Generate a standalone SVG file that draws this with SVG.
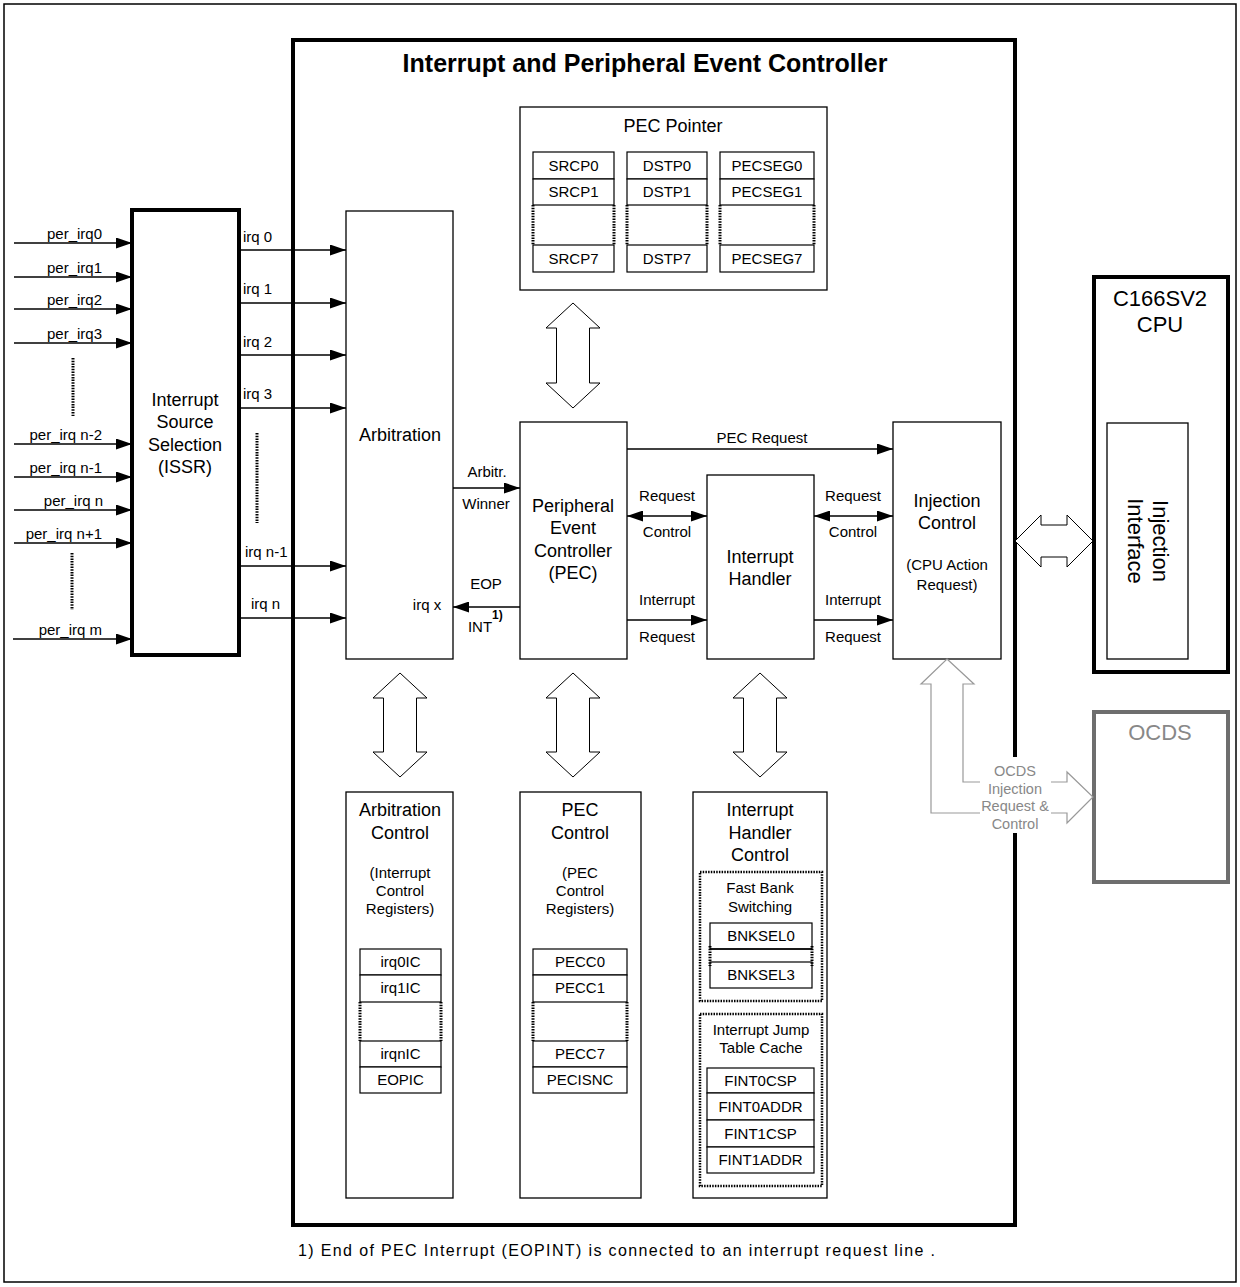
<svg xmlns="http://www.w3.org/2000/svg" width="1240" height="1287" viewBox="0 0 1240 1287">
<defs>
<marker id="ah" markerUnits="userSpaceOnUse" markerWidth="16" markerHeight="11" refX="16" refY="5.5" orient="auto-start-reverse"><path d="M0,0 L16,5.5 L0,11 z" fill="#000"/></marker>
<style>
text{font-family:"Liberation Sans",Arial,sans-serif;fill:#000}
.m{text-anchor:middle}
.e{text-anchor:end}
.f18{font-size:18px}
.f15{font-size:15px}
.f22{font-size:22px}
.box{fill:#fff;stroke:#000;stroke-width:1.3}
.thick{fill:#fff;stroke:#000;stroke-width:4}
.reg{fill:#fff;stroke:#000;stroke-width:1.2}
.dots{fill:none;stroke:#000;stroke-width:3;stroke-dasharray:1.5 1.2}
.dbox{fill:none;stroke:#000;stroke-width:2.5;stroke-dasharray:1.5 1.2}
.ln{stroke:#000;stroke-width:1.3;fill:none}
.arr{stroke:#000;stroke-width:1.3;fill:none;marker-end:url(#ah)}
.darr{stroke:#000;stroke-width:1.3;fill:none;marker-end:url(#ah);marker-start:url(#ah)}
.hol{fill:#fff;stroke:#000;stroke-width:1}
.gry{fill:#fff;stroke:#999;stroke-width:1.2}
.gt{fill:#888}
</style>
</defs>
<rect x="4" y="4" width="1232" height="1278" fill="#fff" stroke="#000" stroke-width="1.5"/>

<g id="iepc">
<rect class="thick" x="293" y="40" width="722" height="1185"/>
<text x="645" y="72" class="m" style="font-size:25px;font-weight:bold">Interrupt and Peripheral Event Controller</text>
</g>

<g id="issr">
<rect class="thick" x="132" y="210" width="107" height="445"/>
<text x="185" y="406" class="m f18">Interrupt</text>
<text x="185" y="428" class="m f18">Source</text>
<text x="185" y="451" class="m f18">Selection</text>
<text x="185" y="473" class="m f18">(ISSR)</text>
</g>

<g id="inputs" class="f15">
<text x="102" y="239" class="e">per_irq0</text>
<text x="102" y="273" class="e">per_irq1</text>
<text x="102" y="305" class="e">per_irq2</text>
<text x="102" y="339" class="e">per_irq3</text>
<text x="102" y="440" class="e">per_irq n-2</text>
<text x="102" y="473" class="e">per_irq n-1</text>
<text x="103" y="506" class="e">per_irq n</text>
<text x="102" y="539" class="e">per_irq n+1</text>
<text x="102" y="635" class="e">per_irq m</text>
<text x="243" y="242">irq 0</text>
<text x="243" y="294">irq 1</text>
<text x="243" y="347">irq 2</text>
<text x="243" y="399">irq 3</text>
<text x="245" y="557">irq n-1</text>
<text x="251" y="609">irq n</text>
</g>

<g id="arbitration">
<rect class="box" x="346" y="211" width="107" height="448"/>
<text x="400" y="441" class="m f18">Arbitration</text>
<text x="427" y="610" class="m f15">irq x</text>
</g>

<g id="pec">
<rect class="box" x="520" y="422" width="107" height="237"/>
<text x="573" y="512" class="m f18">Peripheral</text>
<text x="573" y="534" class="m f18">Event</text>
<text x="573" y="557" class="m f18">Controller</text>
<text x="573" y="579" class="m f18">(PEC)</text>
</g>

<g id="interrupt-handler">
<rect class="box" x="707" y="475" width="107" height="184"/>
<text x="760" y="563" class="m f18">Interrupt</text>
<text x="760" y="585" class="m f18">Handler</text>
</g>

<g id="injection-control">
<rect class="box" x="893" y="422" width="108" height="237"/>
<text x="947" y="507" class="m f18">Injection</text>
<text x="947" y="529" class="m f18">Control</text>
<text x="947" y="570" class="m f15">(CPU Action</text>
<text x="947" y="590" class="m f15">Request)</text>
</g>

<g id="pec-pointer">
<rect class="box" x="520" y="107" width="307" height="183"/>
<text x="673" y="132" class="m f18">PEC Pointer</text>
<rect class="reg" x="533" y="152" width="81" height="27"/>
<rect class="reg" x="533" y="179" width="81" height="26"/>
<rect class="reg" x="533" y="245" width="81" height="27"/>
<rect class="reg" x="627" y="152" width="80" height="27"/>
<rect class="reg" x="627" y="179" width="80" height="26"/>
<rect class="reg" x="627" y="245" width="80" height="27"/>
<rect class="reg" x="720" y="152" width="94" height="27"/>
<rect class="reg" x="720" y="179" width="94" height="26"/>
<rect class="reg" x="720" y="245" width="94" height="27"/>
<path class="dots" d="M533,205 V245 M614,205 V245 M627,205 V245 M707,205 V245 M720,205 V245 M814,205 V245"/>
<g class="f15 m">
<text x="573.5" y="171" class="m">SRCP0</text>
<text x="573.5" y="197" class="m">SRCP1</text>
<text x="573.5" y="264" class="m">SRCP7</text>
<text x="667" y="171" class="m">DSTP0</text>
<text x="667" y="197" class="m">DSTP1</text>
<text x="667" y="264" class="m">DSTP7</text>
<text x="767" y="171" class="m">PECSEG0</text>
<text x="767" y="197" class="m">PECSEG1</text>
<text x="767" y="264" class="m">PECSEG7</text>
</g>
</g>

<g id="arbitration-control">
<rect class="box" x="346" y="792" width="107" height="406"/>
<text x="400" y="816" class="m f18">Arbitration</text>
<text x="400" y="839" class="m f18">Control</text>
<text x="400" y="878" class="m f15">(Interrupt</text>
<text x="400" y="896" class="m f15">Control</text>
<text x="400" y="914" class="m f15">Registers)</text>
<rect class="reg" x="360" y="949" width="81" height="26"/>
<rect class="reg" x="360" y="975" width="81" height="27"/>
<rect class="reg" x="360" y="1041" width="81" height="26"/>
<rect class="reg" x="360" y="1067" width="81" height="26"/>
<path class="dots" d="M360,1002 V1041 M441,1002 V1041"/>
<text x="400.5" y="967" class="m f15">irq0IC</text>
<text x="400.5" y="993" class="m f15">irq1IC</text>
<text x="400.5" y="1059" class="m f15">irqnIC</text>
<text x="400.5" y="1085" class="m f15">EOPIC</text>
</g>

<g id="pec-control">
<rect class="box" x="520" y="792" width="121" height="406"/>
<text x="580" y="816" class="m f18">PEC</text>
<text x="580" y="839" class="m f18">Control</text>
<text x="580" y="878" class="m f15">(PEC</text>
<text x="580" y="896" class="m f15">Control</text>
<text x="580" y="914" class="m f15">Registers)</text>
<rect class="reg" x="533" y="949" width="94" height="26"/>
<rect class="reg" x="533" y="975" width="94" height="27"/>
<rect class="reg" x="533" y="1041" width="94" height="26"/>
<rect class="reg" x="533" y="1067" width="94" height="26"/>
<path class="dots" d="M533,1002 V1041 M627,1002 V1041"/>
<text x="580" y="967" class="m f15">PECC0</text>
<text x="580" y="993" class="m f15">PECC1</text>
<text x="580" y="1059" class="m f15">PECC7</text>
<text x="580" y="1085" class="m f15">PECISNC</text>
</g>

<g id="ih-control">
<rect class="box" x="693" y="792" width="134" height="406"/>
<text x="760" y="816" class="m f18">Interrupt</text>
<text x="760" y="839" class="m f18">Handler</text>
<text x="760" y="861" class="m f18">Control</text>
<rect class="dbox" x="700" y="872" width="122" height="129"/>
<text x="760" y="893" class="m f15">Fast Bank</text>
<text x="760" y="912" class="m f15">Switching</text>
<rect class="reg" x="710" y="923" width="102" height="26"/>
<rect class="reg" x="710" y="962" width="102" height="26"/>
<path class="dots" d="M710,946 V966 M812,946 V966"/>
<line class="ln" x1="710" y1="949" x2="812" y2="949"/>
<text x="761" y="941" class="m f15">BNKSEL0</text>
<text x="761" y="980" class="m f15">BNKSEL3</text>
<rect class="dbox" x="700" y="1014" width="122" height="172"/>
<text x="761" y="1035" class="m f15">Interrupt Jump</text>
<text x="761" y="1053" class="m f15">Table Cache</text>
<rect class="reg" x="707" y="1068" width="107" height="25"/>
<rect class="reg" x="707" y="1093" width="107" height="27"/>
<rect class="reg" x="707" y="1120" width="107" height="27"/>
<rect class="reg" x="707" y="1147" width="107" height="26"/>
<text x="760.5" y="1086" class="m f15">FINT0CSP</text>
<text x="760.5" y="1112" class="m f15">FINT0ADDR</text>
<text x="760.5" y="1139" class="m f15">FINT1CSP</text>
<text x="760.5" y="1165" class="m f15">FINT1ADDR</text>
</g>

<g id="cpu">
<rect class="thick" x="1094" y="277" width="134" height="395"/>
<text x="1160" y="306" class="m f22">C166SV2</text>
<text x="1160" y="332" class="m f22">CPU</text>
<rect class="box" x="1107" y="423" width="81" height="236"/>
<g transform="translate(1147.5,541) rotate(90)">
<text x="0" y="-5" class="m f22">Injection</text>
<text x="0" y="20" class="m f22">Interface</text>
</g>
</g>

<g id="ocds">
<rect x="1094" y="712" width="134" height="170" fill="#fff" stroke="#6e6e6e" stroke-width="4"/>
<text x="1160" y="740" class="m f22" style="fill:#888">OCDS</text>
</g>

<g id="connectors">
<path class="dots" d="M73,358 V416 M72,553 V610 M257,433 V523"/>
<line class="arr" x1="14" y1="243" x2="132" y2="243"/>
<line class="arr" x1="14" y1="277" x2="132" y2="277"/>
<line class="arr" x1="14" y1="309" x2="132" y2="309"/>
<line class="arr" x1="14" y1="343" x2="132" y2="343"/>
<line class="arr" x1="14" y1="444" x2="132" y2="444"/>
<line class="arr" x1="14" y1="477" x2="132" y2="477"/>
<line class="arr" x1="14" y1="510" x2="132" y2="510"/>
<line class="arr" x1="14" y1="543" x2="132" y2="543"/>
<line class="arr" x1="13" y1="639" x2="132" y2="639"/>
<line class="arr" x1="239" y1="250" x2="346" y2="250"/>
<line class="arr" x1="239" y1="303" x2="346" y2="303"/>
<line class="arr" x1="239" y1="355" x2="346" y2="355"/>
<line class="arr" x1="239" y1="408" x2="346" y2="408"/>
<line class="arr" x1="239" y1="566" x2="346" y2="566"/>
<line class="arr" x1="239" y1="618" x2="346" y2="618"/>
<line class="arr" x1="453" y1="488" x2="520" y2="488"/>
<line class="arr" x1="520" y1="607" x2="453" y2="607"/>
<line class="arr" x1="627" y1="449" x2="893" y2="449"/>
<line class="darr" x1="627" y1="516" x2="707" y2="516"/>
<line class="darr" x1="814" y1="516" x2="893" y2="516"/>
<line class="arr" x1="627" y1="620" x2="707" y2="620"/>
<line class="arr" x1="814" y1="620" x2="893" y2="620"/>
<g class="f15">
<text x="487" y="477" class="m">Arbitr.</text>
<text x="486" y="509" class="m">Winner</text>
<text x="486" y="589" class="m">EOP</text>
<text x="480" y="632" class="m">INT</text>
<text x="492" y="619" style="font-size:12px;font-weight:bold">1)</text>
<text x="762" y="443" class="m">PEC Request</text>
<text x="667" y="501" class="m">Request</text>
<text x="667" y="537" class="m">Control</text>
<text x="853" y="501" class="m">Request</text>
<text x="853" y="537" class="m">Control</text>
<text x="667" y="605" class="m">Interrupt</text>
<text x="667" y="642" class="m">Request</text>
<text x="853" y="605" class="m">Interrupt</text>
<text x="853" y="642" class="m">Request</text>
</g>
<polygon class="hol" points="573,303 600,328 589.5,328 589.5,383 600,383 573,408 546,383 556.5,383 556.5,328 546,328"/>
<polygon class="hol" points="400,673 427,698 416.5,698 416.5,752 427,752 400,777 373,752 383.5,752 383.5,698 373,698"/>
<polygon class="hol" points="573,673 600,698 589.5,698 589.5,752 600,752 573,777 546,752 556.5,752 556.5,698 546,698"/>
<polygon class="hol" points="760,673 787,698 776.5,698 776.5,752 787,752 760,777 733,752 743.5,752 743.5,698 733,698"/>
<polygon class="hol" points="1015,541 1041,515 1041,525 1067,525 1067,515 1093,541 1067,567 1067,557 1041,557 1041,567"/>
<polygon class="gry" points="947,659 974,684 963,684 963,782 1067,782 1067,772 1093,797 1067,823 1067,813 931,813 931,684 921,684"/>
<rect x="980" y="757" width="71" height="76" fill="#fff"/>
<g class="f15 gt" style="font-size:14.5px">
<text x="1015" y="776" class="m gt">OCDS</text>
<text x="1015" y="794" class="m gt">Injection</text>
<text x="1015" y="811" class="m gt">Request &amp;</text>
<text x="1015" y="829" class="m gt">Control</text>
</g>
</g>

<text x="298" y="1256" style="font-size:16px" textLength="637" lengthAdjust="spacing">1) End of PEC Interrupt (EOPINT) is connected to an interrupt request line .</text>
</svg>
